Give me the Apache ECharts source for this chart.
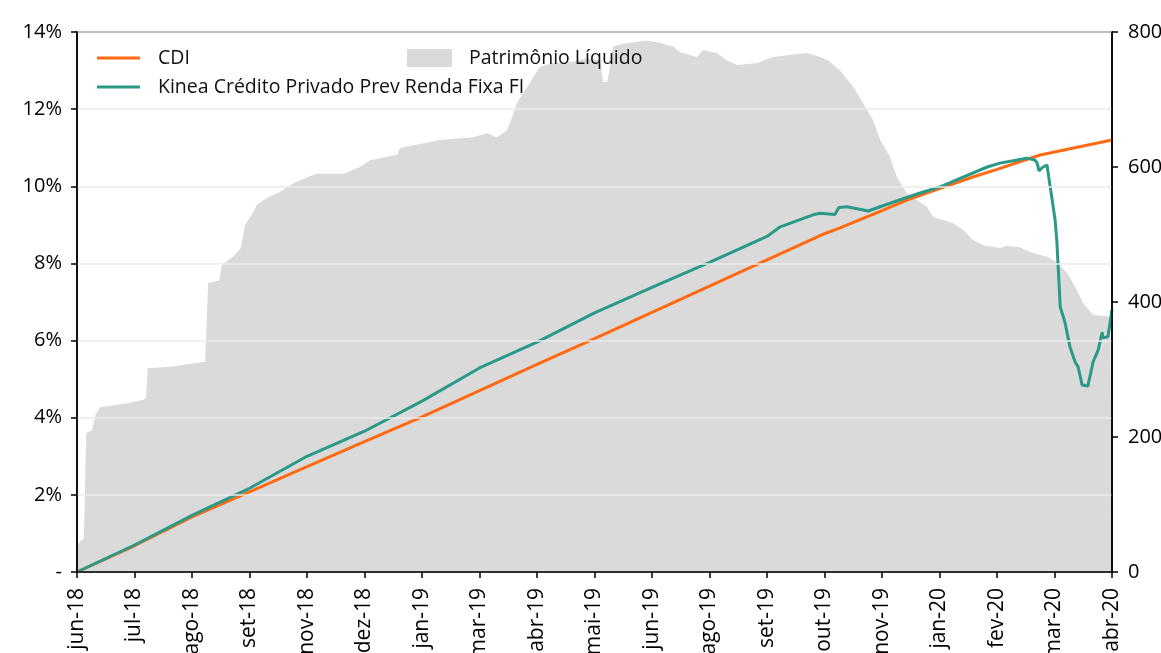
<!DOCTYPE html>
<html>
<head>
<meta charset="utf-8">
<script src="https://cdn.jsdelivr.net/npm/echarts@6/dist/echarts.min.js"></script>
<style>
  html, body { margin: 0; padding: 0; background: #fff; }
  #chart { width: 1161px; height: 653px; }
</style>
</head>
<body>
<div id="chart"></div>
<script>
// x positions are in "tick units": 0 = jun-18, 18 = abr-20
const tickLabels = ['jun-18', 'jul-18', 'ago-18', 'set-18', 'nov-18', 'dez-18', 'jan-19', 'mar-19', 'abr-19',
  'mai-19', 'jun-19', 'ago-19', 'set-19', 'out-19', 'nov-19', 'jan-20', 'fev-20', 'mar-20', 'abr-20'];

const cdiX = [0, 1, 2, 3, 4, 5, 6, 7, 8, 9, 10, 11, 12, 13, 13.27, 14, 14.43, 15, 15.58, 16, 16.75, 17, 18];
const cdiY = [0, 0.68, 1.43, 2.08, 2.73, 3.38, 4.02, 4.70, 5.38, 6.05, 6.73, 7.41, 8.09, 8.77, 8.92, 9.37, 9.64,
  9.94, 10.24, 10.44, 10.81, 10.89, 11.2];

const kineaX = [0, 1, 2, 3, 4, 5, 6, 7, 8, 9, 10, 11, 12, 12.23, 12.8, 12.92, 13.18, 13.25, 13.39, 13.76, 14.14,
  14.61, 15, 15.83, 16.05, 16.28, 16.52, 16.66, 16.7, 16.73, 16.8, 16.87, 16.9, 17.01, 17.04, 17.1, 17.18,
  17.27, 17.36, 17.41, 17.48, 17.58, 17.67, 17.76, 17.83, 17.84, 17.93, 18];
const kineaY = [0, 0.70, 1.47, 2.17, 3.0, 3.65, 4.43, 5.29, 5.96, 6.72, 7.38, 8.03, 8.70, 8.95, 9.26, 9.3, 9.27,
  9.45, 9.47, 9.36, 9.56, 9.8, 9.98, 10.5, 10.6, 10.66, 10.73, 10.68, 10.6, 10.4, 10.5, 10.55, 10.24, 9.13, 8.6,
  6.87, 6.48, 5.83, 5.44, 5.32, 4.85, 4.82, 5.44, 5.76, 6.22, 6.07, 6.1, 6.8];

const plX = [0, 0.05, 0.12, 0.16, 0.26, 0.33, 0.40, 0.87, 1.15, 1.20, 1.23, 1.62, 2.19, 2.23, 2.28, 2.47, 2.52,
  2.71, 2.85, 2.92, 3.06, 3.13, 3.30, 3.53, 3.76, 4.00, 4.17, 4.63, 4.92, 5.10, 5.57, 5.62, 6.31, 6.89, 7.13,
  7.30, 7.48, 7.57, 7.65, 7.83, 8.05, 8.28, 8.63, 8.87, 9.10, 9.15, 9.22, 9.27, 9.32, 9.50, 9.91, 10.14, 10.37,
  10.49, 10.78, 10.89, 11.13, 11.30, 11.48, 11.83, 12.10, 12.40, 12.70, 12.92, 13.06, 13.27, 13.50, 13.67, 13.84,
  13.97, 14.14, 14.26, 14.43, 14.61, 14.78, 14.89, 15.23, 15.41, 15.58, 15.76, 16.05, 16.17, 16.40, 16.57, 16.87,
  17.04, 17.22, 17.36, 17.50, 17.67, 17.97, 18];
const plY = [40, 45, 50, 206, 210, 235, 244, 250, 255, 258, 302, 304, 311, 311, 428, 432, 455, 467, 480, 514, 532,
  544, 554, 563, 576, 585, 590, 590, 600, 610, 618, 628, 640, 644, 650, 644, 655, 674, 695, 719, 748, 754, 756,
  761, 758, 726, 726, 748, 778, 783, 787, 784, 778, 770, 763, 773, 769, 758, 751, 754, 763, 766, 769, 763, 758,
  743, 719, 695, 670, 640, 615, 585, 561, 551, 541, 526, 517, 507, 492, 484, 480, 483, 481, 474, 467, 459, 443,
  422, 398, 381, 378, 378];

const zip = (xs, ys) => xs.map((x, i) => [x, ys[i]]);

const chart = echarts.init(document.getElementById('chart'));
const FONT = 'Open Sans';
const axisLine = () => ({ show: true, onZero: false, lineStyle: { color: '#000', width: 1.5 } });
const axisTick = () => ({ show: true, length: 6, lineStyle: { color: '#000', width: 1.5 } });

chart.setOption({
  animation: false,
  grid: {
    left: 77, right: 49, top: 32, bottom: 81, containLabel: false, outerBoundsMode: 'none',
    show: true, borderColor: '#000', borderWidth: 1.5, backgroundColor: 'transparent'
  },
  legend: [{
    left: 92, top: 43, orient: 'vertical', itemGap: 9,
    icon: 'rect', itemWidth: 43, itemHeight: 3,
    textStyle: { fontFamily: FONT, fontSize: 19.5, color: '#111', padding: [0, 0, 0, 13] },
    data: ['CDI', 'Kinea Crédito Privado Prev Renda Fixa FI']
  }, {
    left: 402, top: 43, icon: 'rect', itemWidth: 45, itemHeight: 18,
    textStyle: { fontFamily: FONT, fontSize: 19.5, color: '#111', padding: [0, 0, 0, 12] },
    data: ['Patrimônio Líquido']
  }],
  xAxis: [{
    type: 'value', min: 0, max: 18, interval: 1, z: 5,
    axisLine: axisLine(),
    axisTick: axisTick(),
    axisLabel: {
      rotate: 90, margin: 16, fontFamily: FONT, fontSize: 21, color: '#000',
      formatter: v => tickLabels[Math.round(v)] || ''
    },
    splitLine: { show: false }
  }],
  yAxis: [{
    type: 'value', min: 0, max: 14, interval: 2, position: 'left', z: 5,
    axisLine: axisLine(),
    axisTick: axisTick(),
    axisLabel: {
      fontFamily: FONT, fontSize: 20, color: '#000', margin: 15,
      formatter: v => v === 0 ? '-' : v + '%'
    },
    splitLine: { show: true, lineStyle: { color: '#ebebeb', width: 1.5 } }
  }, {
    type: 'value', min: 0, max: 800, interval: 200, position: 'right', z: 5,
    axisLine: axisLine(),
    axisTick: axisTick(),
    axisLabel: { fontFamily: FONT, fontSize: 20, color: '#000', margin: 16 },
    splitLine: { show: false }
  }],
  series: [{
    name: 'Patrimônio Líquido',
    type: 'line',
    yAxisIndex: 1,
    z: -1,
    symbol: 'none',
    itemStyle: { color: '#dadada' },
    lineStyle: { width: 0, color: '#dadada' },
    areaStyle: { color: '#dadada', opacity: 1 },
    data: zip(plX, plY)
  }, {
    name: 'CDI',
    type: 'line',
    symbol: 'none',
    itemStyle: { color: '#ff6a13' },
    lineStyle: { width: 3, color: '#ff6a13' },
    data: zip(cdiX, cdiY)
  }, {
    name: 'Kinea Crédito Privado Prev Renda Fixa FI',
    type: 'line',
    symbol: 'none',
    itemStyle: { color: '#2a9a87' },
    lineStyle: { width: 3, color: '#2a9a87' },
    data: zip(kineaX, kineaY)
  }]
});
</script>
</body>
</html>
